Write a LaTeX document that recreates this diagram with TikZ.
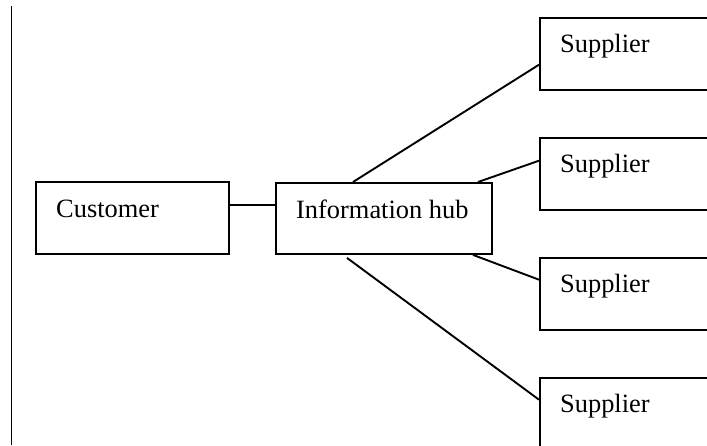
\documentclass[tikz,border=0pt]{standalone}
\usepackage{fontspec}
\setmainfont{Liberation Serif}
\usetikzlibrary{calc}
\begin{document}
\begin{tikzpicture}[x=1pt,y=-1pt,
  box/.style={draw, line width=1.9pt, inner sep=0pt, anchor=north west,
    minimum height=72pt},
  caption/.style={anchor=base west, inner sep=0pt, xshift=21pt, yshift=-36pt,
    font=\fontsize{26.4}{30}\selectfont},
  link/.style={line width=1.9pt}]
  \useasboundingbox (0,0) rectangle (707,445);
  \clip (0,0) rectangle (707,445);

  % margin rule on the left
  \coordinate (ruletop) at (11.5,6);
  \coordinate (rulebot) at (11.5,445);
  \draw[link] (ruletop) -- (rulebot);

  % boxes
  \node[box, minimum width=193pt, label={[caption]north west:Customer}] (cust) at (35,181) {};
  \node[box, minimum width=216pt, minimum height=71pt,
        label={[caption]north west:Information hub}] (hub) at (275,182) {};
  \node[box, minimum width=168pt, label={[caption]north west:Supplier}] (s1) at (539,16.7) {};
  \node[box, minimum width=168pt, label={[caption]north west:Supplier}] (s2) at (539,136.7) {};
  \node[box, minimum width=168pt, label={[caption]north west:Supplier}] (s3) at (539,256.7) {};
  \node[box, minimum width=168pt, label={[caption]north west:Supplier}] (s4) at (539,376.7) {};

  % connectors
  \draw[link] ($(cust.north east)+(0,24)$) -- ($(hub.north west)+(0,23)$);
  \draw[link] ($(hub.north west)+(78,0)$) -- ($(s1.north west)+(0,48)$);
  \draw[link] ($(hub.north west)+(203,0)$) -- ($(s2.north west)+(0,24)$);
  \draw[link] ($(hub.south west)+(198,0)$) -- ($(s3.north west)+(0,23)$);
  \draw[link] ($(hub.south west)+(72,3)$) -- ($(s4.north west)+(0,23)$);
\end{tikzpicture}
\end{document}
